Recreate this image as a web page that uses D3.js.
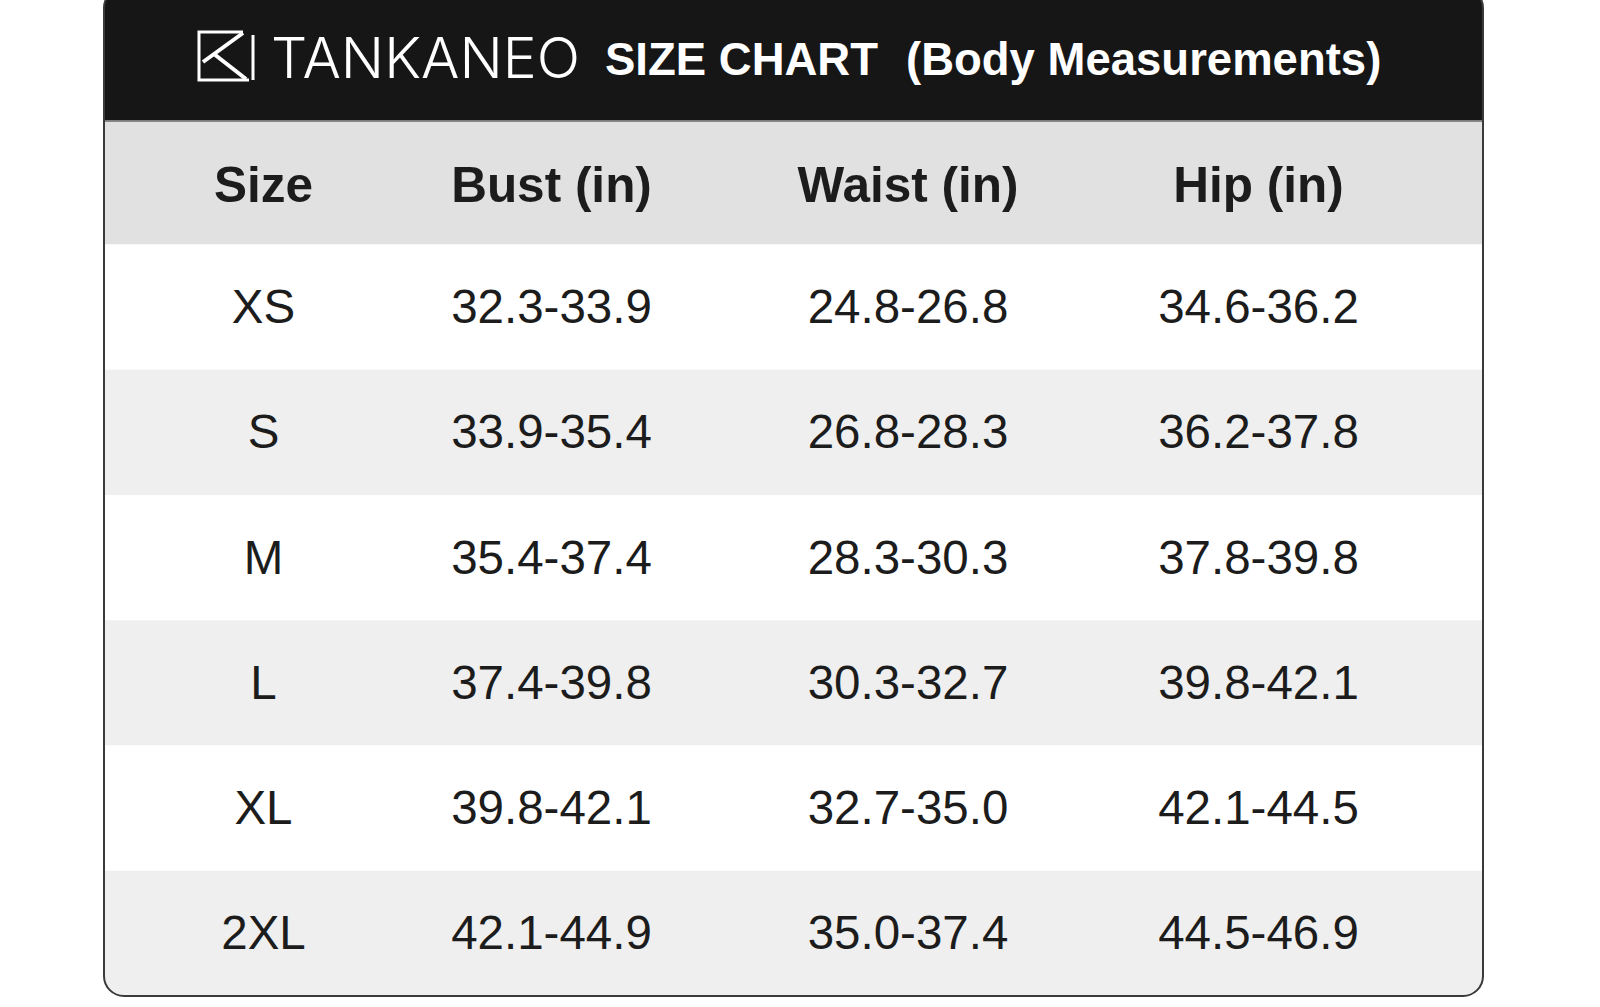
<!DOCTYPE html>
<html>
<head>
<meta charset="utf-8">
<script src="https://cdn.jsdelivr.net/npm/d3@7"></script>
<style>
  html, body { margin: 0; padding: 0; background: #fff; }
  svg { display: block; }
</style>
</head>
<body>
<svg id="chart"></svg>
<script>
// size chart data
const brand = "TANKANEO";
const titleMain = "SIZE CHART";
const titleSub = "(Body Measurements)";
const columns = ["Size", "Bust (in)", "Waist (in)", "Hip (in)"];
const sizes = ["XS", "S", "M", "L", "XL", "2XL"];
const bust  = [[32.3, 33.9], [33.9, 35.4], [35.4, 37.4], [37.4, 39.8], [39.8, 42.1], [42.1, 44.9]];
const waist = [[24.8, 26.8], [26.8, 28.3], [28.3, 30.3], [30.3, 32.7], [32.7, 35.0], [35.0, 37.4]];
const hip   = [[34.6, 36.2], [36.2, 37.8], [37.8, 39.8], [39.8, 42.1], [42.1, 44.5], [44.5, 46.9]];

const width = 1600, height = 1007;
const card = {left: 104, right: 1483, top: -12, bottom: 996, r: 20};
const headH = 120.5, colHeadBottom = 244.5;
const font = "'Liberation Sans', Arial, Helvetica, sans-serif";
const ink = "#1c1c1c";

const fmt = d3.format(".1f");
const range = d => fmt(d[0]) + "-" + fmt(d[1]);

const svg = d3.select("#chart").attr("width", width).attr("height", height);

// column centres and row bands
let x = d3.scaleOrdinal().domain(columns).range([263.5, 551.5, 908, 1258.5]);
let y = d3.scaleBand().domain(sizes).range([colHeadBottom, card.bottom]);

svg.append("clipPath").attr("id", "cardClip")
  .append("rect")
  .attr("x", card.left).attr("y", card.top)
  .attr("width", card.right - card.left).attr("height", card.bottom - card.top)
  .attr("rx", card.r);

let g = svg.append("g").attr("clip-path", "url(#cardClip)");

// header band
g.append("rect")
  .attr("x", card.left).attr("y", card.top)
  .attr("width", card.right - card.left).attr("height", headH - card.top)
  .attr("fill", "#161616");

g.append("rect")
  .attr("x", card.left).attr("y", headH)
  .attr("width", card.right - card.left).attr("height", colHeadBottom - headH)
  .attr("fill", "#e1e1e1");

g.append("line")
  .attr("x1", card.left).attr("x2", card.right)
  .attr("y1", headH + 0.5).attr("y2", headH + 0.5)
  .attr("stroke", "#6a6a6a").attr("stroke-width", 1.5);

// row stripes
g.selectAll("rect.row")
  .data(sizes)
  .join("rect")
  .attr("class", "row")
  .attr("x", card.left)
  .attr("y", d => y(d))
  .attr("width", card.right - card.left)
  .attr("height", y.bandwidth())
  .attr("fill", (d, i) => i % 2 ? "#efefef" : "#ffffff");

// card outline
svg.append("rect")
  .attr("x", card.left).attr("y", card.top)
  .attr("width", card.right - card.left).attr("height", card.bottom - card.top)
  .attr("rx", card.r)
  .attr("fill", "none")
  .attr("stroke", "#3a3a3a")
  .attr("stroke-width", 2);

// logo mark
let logo = svg.append("g")
  .attr("fill", "none")
  .attr("stroke", "#fff")
  .attr("stroke-width", 3);
logo.append("path").attr("d", "M243,32 L199,32 L199,80 L249,80");
logo.append("path").attr("d", "M243,33 L203,62").attr("stroke-width", 4);
logo.append("path").attr("d", "M214,54 L246,79").attr("stroke-width", 4);
logo.append("path").attr("d", "M253,35 L253,80");

svg.append("text")
  .attr("x", 271).attr("y", 78)
  .attr("font-family", "Inter, 'Noto Sans', sans-serif")
  .attr("font-weight", 300)
  .attr("font-size", 56)
  .attr("textLength", 309)
  .attr("lengthAdjust", "spacingAndGlyphs")
  .attr("fill", "#fff")
  .text(brand);

svg.append("text")
  .attr("x", 605).attr("y", 75)
  .attr("font-family", font).attr("font-weight", "bold").attr("font-size", 45.5)
  .attr("fill", "#fff")
  .text(titleMain);

svg.append("text")
  .attr("x", 906).attr("y", 75)
  .attr("font-family", font).attr("font-weight", "bold").attr("font-size", 45.5)
  .attr("fill", "#fff")
  .text(titleSub);

// column headers
svg.selectAll("text.colhead")
  .data(columns)
  .join("text")
  .attr("class", "colhead")
  .attr("x", d => x(d))
  .attr("y", (headH + colHeadBottom) / 2 + 19)
  .attr("text-anchor", "middle")
  .attr("font-family", font).attr("font-weight", "bold").attr("font-size", 49.5)
  .attr("fill", ink)
  .text(d => d);

// cell values
let cells = sizes.map((s, i) => [s, range(bust[i]), range(waist[i]), range(hip[i])]);

svg.selectAll("g.rowtext")
  .data(cells)
  .join("g")
  .attr("class", "rowtext")
  .each(function(row, i) {
    d3.select(this).selectAll("text")
      .data(row)
      .join("text")
      .attr("x", (d, j) => x(columns[j]))
      .attr("y", y(sizes[i]) + y.bandwidth() / 2 + 16)
      .attr("text-anchor", "middle")
      .attr("font-family", font).attr("font-size", 47.5)
      .attr("fill", ink)
      .text(d => d);
  });
</script>
</body>
</html>
